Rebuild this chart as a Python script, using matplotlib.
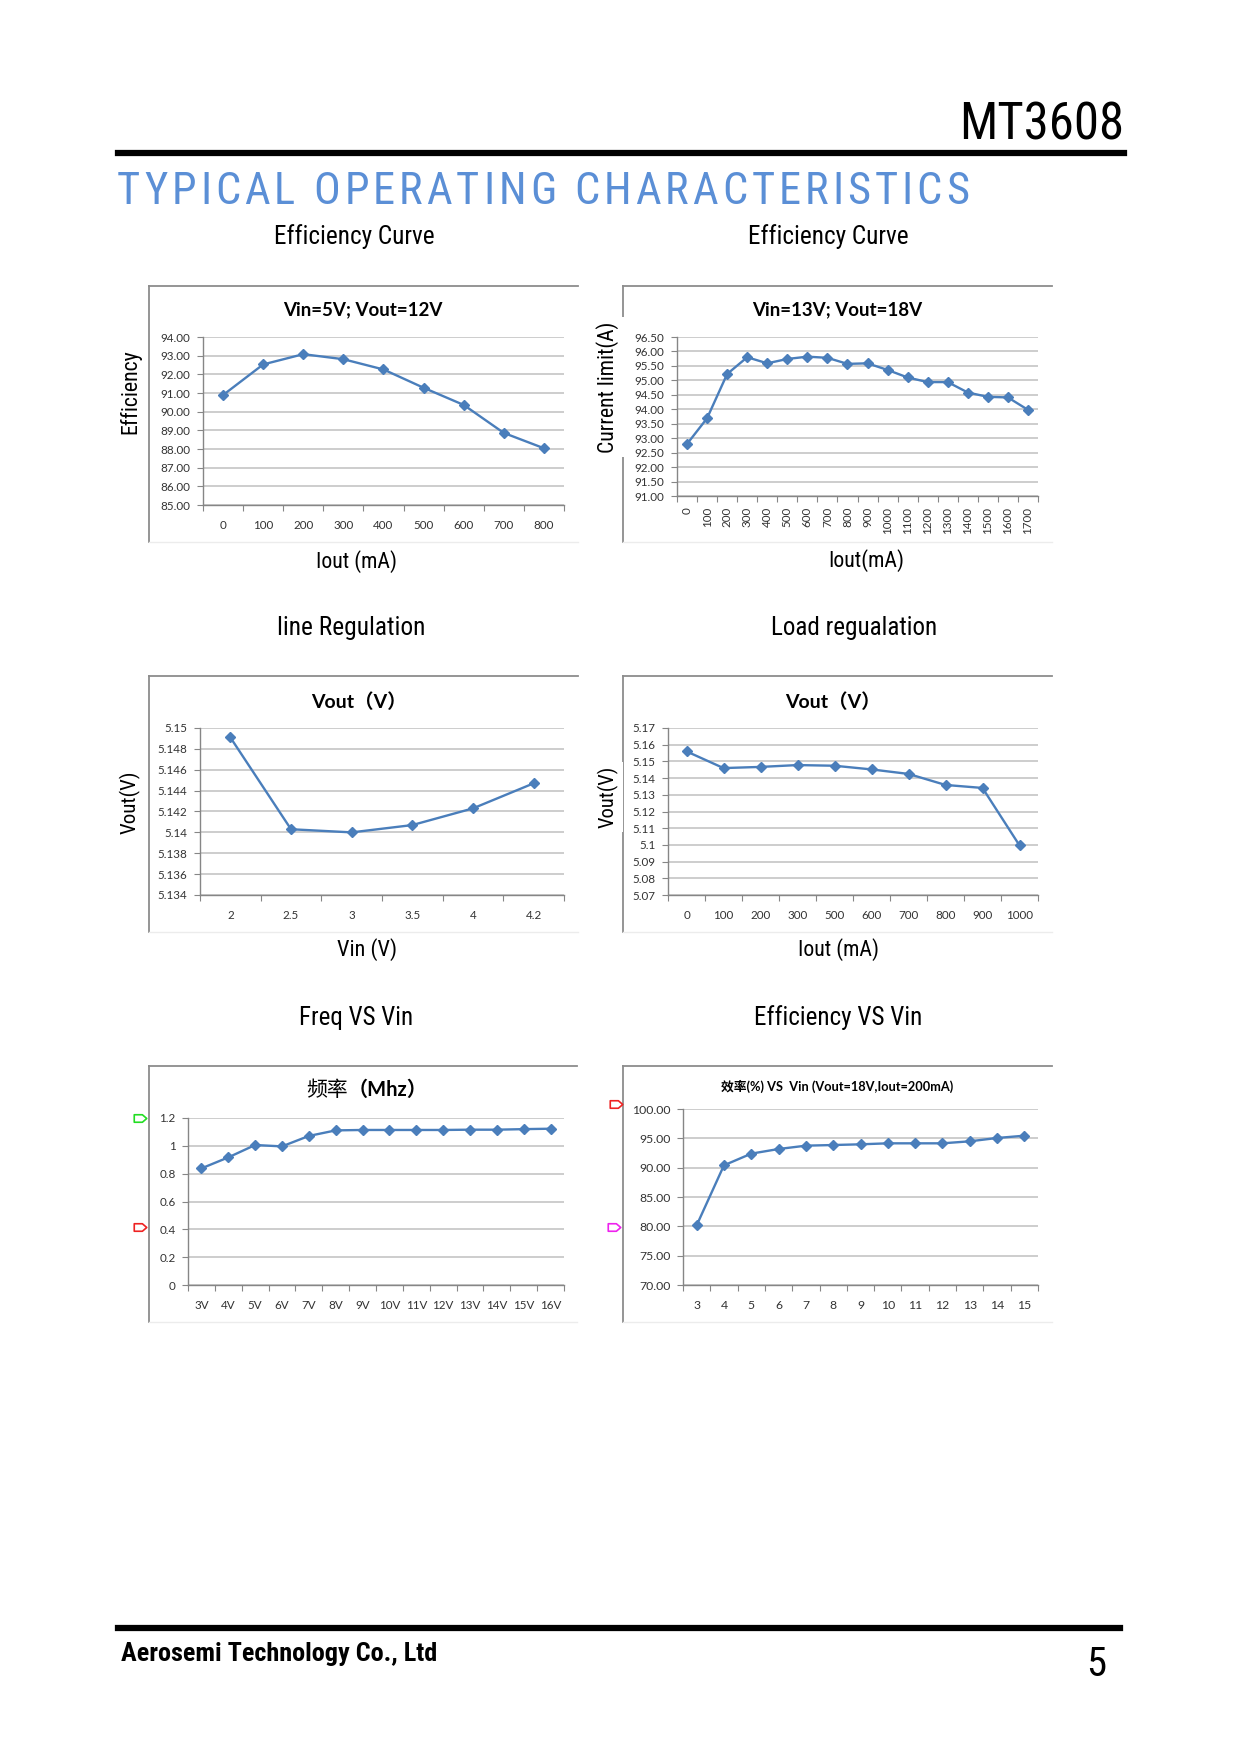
import numpy as np
import matplotlib
matplotlib.use('Agg')
import matplotlib.pyplot as plt
from matplotlib.lines import Line2D
from matplotlib.path import Path
from matplotlib import font_manager as fm

# page size in pixels
W, H = 1240, 1754

eff1_cats = ['0', '100', '200', '300', '400', '500', '600', '700', '800']
eff1_vals = [90.89, 92.53, 93.08, 92.81, 92.26, 91.28, 90.36, 88.86, 88.04]
eff1_yticks = [85, 86, 87, 88, 89, 90, 91, 92, 93, 94]

eff2_cats = ['0', '100', '200', '300', '400', '500', '600', '700', '800', '900',
             '1000', '1100', '1200', '1300', '1400', '1500', '1600', '1700']
eff2_vals = [92.80, 93.69, 95.22, 95.80, 95.59, 95.74, 95.82, 95.78, 95.57, 95.59,
             95.36, 95.10, 94.94, 94.94, 94.58, 94.43, 94.41, 93.98]
eff2_yticks = [91.0, 91.5, 92.0, 92.5, 93.0, 93.5, 94.0, 94.5, 95.0, 95.5, 96.0, 96.5]

line_cats = ['2', '2.5', '3', '3.5', '4', '4.2']
line_vals = [5.1491, 5.1403, 5.1400, 5.1407, 5.1423, 5.1447]
line_yticks = [5.134, 5.136, 5.138, 5.140, 5.142, 5.144, 5.146, 5.148, 5.150]

load_cats = ['0', '100', '200', '300', '500', '600', '700', '800', '900', '1000']
load_vals = [5.156, 5.146, 5.1467, 5.1478, 5.1474, 5.1452, 5.1425, 5.1359, 5.1341, 5.0997]
load_yticks = [5.07, 5.08, 5.09, 5.10, 5.11, 5.12, 5.13, 5.14, 5.15, 5.16, 5.17]

freq_cats = ['3V', '4V', '5V', '6V', '7V', '8V', '9V', '10V', '11V', '12V',
             '13V', '14V', '15V', '16V']
freq_vals = [0.838, 0.917, 1.006, 0.996, 1.071, 1.111, 1.114, 1.114, 1.114, 1.114,
             1.116, 1.116, 1.120, 1.123]
freq_yticks = [0, 0.2, 0.4, 0.6, 0.8, 1.0, 1.2]

effv_cats = ['3', '4', '5', '6', '7', '8', '9', '10', '11', '12', '13', '14', '15']
effv_vals = [80.17, 90.40, 92.39, 93.18, 93.75, 93.86, 93.98, 94.15, 94.15, 94.15,
             94.49, 95.06, 95.45]
effv_yticks = [70, 75, 80, 85, 90, 95, 100]

BLUE = '#4A7EBB'
CHART = ['Lato', 'Noto Sans CJK SC', 'DejaVu Sans']


# look for a condensed face (Arial Narrow look); fall back to Liberation Sans
def narrow_font(bold=False):
    want = 'bold' if bold else 'normal'
    for fam in ['Liberation Sans Narrow', 'Roboto Condensed', 'Open Sans Condensed',
                'Noto Sans', 'Roboto', 'Open Sans', 'DejaVu Sans']:
        for f in fm.fontManager.ttflist:
            if f.name != fam or 'condensed' not in str(f.stretch) or f.style != 'normal':
                continue
            w = f.weight
            isbold = (w == 'bold') or (isinstance(w, int) and w >= 600)
            if isbold == bold:
                return fm.FontProperties(fname=f.fname)
    return fm.FontProperties(family='Liberation Sans', weight=want)


NARROW = narrow_font(False)
NARROW_B = narrow_font(True)

fig = plt.figure(figsize=(W / 100, H / 100), dpi=100)
R = fig.canvas.get_renderer()


def fy(y):
    return 1 - y / H


def fit_text(cx, cy, s, target, prop, rotation=0, ha='center', **kw):
    # pick a font size so the string spans about `target` pixels
    t = fig.text(cx / W, fy(cy), s, ha=ha, va='center', fontproperties=prop.copy(),
                 rotation=rotation, **kw)
    t.set_fontsize(20)
    bb = t.get_window_extent(R)
    span = bb.height if rotation else bb.width
    t.set_fontsize(20 * target / span)
    return t


def frame(x0, y0, x1, y1):
    # Excel chart border: grey on left/top, almost white elsewhere
    fig.add_artist(Line2D([x0 / W, x0 / W], [fy(y0), fy(y1)], color='#8c8c8c', lw=1.3, zorder=1))
    fig.add_artist(Line2D([x0 / W, x1 / W], [fy(y0), fy(y0)], color='#8c8c8c', lw=1.3, zorder=1))
    fig.add_artist(Line2D([x0 / W, x1 / W], [fy(y1), fy(y1)], color='#ececec', lw=1.0, zorder=1))


def chart(box, plot, cats, vals, yticks, yfmt, title, tsize, title_xy,
          ylabel=None, ylabel_xy=None, xlabel=None, xlabel_xy=None, rot=0, tsz=8.4):
    frame(*box)
    x0, y0, x1, y1 = plot
    ax = fig.add_axes([x0 / W, fy(y1), (x1 - x0) / W, (y1 - y0) / H])
    xs = np.arange(len(cats))
    ax.plot(xs, vals, color=BLUE, lw=1.7, marker='D', ms=5.5, zorder=3, clip_on=False)
    ax.set_xlim(-0.5, len(cats) - 0.5)
    ax.set_ylim(yticks[0], yticks[-1])
    ax.set_yticks(yticks)
    ax.set_yticklabels([yfmt(v) for v in yticks], fontsize=tsz, color='#333333', family=CHART)
    ax.yaxis.grid(True, color='#C0C0C0', lw=1.1)
    ax.set_axisbelow(True)
    ax.set_xticks(np.arange(-0.5, len(cats)))
    ax.set_xticks(xs, minor=True)
    if rot:
        ax.set_xticklabels(cats, minor=True, rotation=90, va='top', ha='center',
                           fontsize=tsz, color='#333333', family=CHART)
    else:
        ax.set_xticklabels(cats, minor=True, fontsize=tsz, color='#333333', family=CHART)
    ax.tick_params(axis='x', which='major', length=4, color='#868686', labelbottom=False)
    ax.tick_params(axis='x', which='minor', length=0, pad=8 if rot else 11)
    ax.tick_params(axis='y', length=4, color='#868686', pad=5)
    for s in ('top', 'right'):
        ax.spines[s].set_visible(False)
    for s in ('left', 'bottom'):
        ax.spines[s].set_color('#868686')
        ax.spines[s].set_linewidth(1.0)
    ax.set_facecolor('none')
    if title:
        fig.text(title_xy[0] / W, fy(title_xy[1]), title, ha='center', va='center',
                 fontsize=tsize, fontweight='bold', family=CHART)
    if ylabel:
        fit_text(ylabel_xy[0], ylabel_xy[1], ylabel[0], ylabel[1], NARROW, rotation=90,
                 zorder=5, bbox=dict(facecolor='white', edgecolor='none', pad=2))
    if xlabel:
        fit_text(xlabel_xy[0], xlabel_xy[1], xlabel[0], xlabel[1], NARROW)
    return ax


f2 = lambda v: '%.2f' % v
fg = lambda v: '%g' % v

chart((149, 286, 578, 542), (203, 337, 564, 505), eff1_cats, eff1_vals, eff1_yticks, f2,
      'Vin=5V; Vout=12V', 13.5, (363, 310), ('Efficiency', 85), (130, 392),
      ('Iout (mA)', 81), (357, 562))
chart((623, 286, 1052, 542), (677, 337, 1038, 496), eff2_cats, eff2_vals, eff2_yticks, f2,
      'Vin=13V; Vout=18V', 13.5, (837, 310), ('Current limit(A)', 131), (608, 387),
      ('Iout(mA)', 76), (866, 561), rot=90)
chart((149, 676, 578, 932), (200, 728, 564, 895), line_cats, line_vals, line_yticks, fg,
      'Vout（V）', 14, (359, 702), ('Vout(V)', 63), (130, 802), ('Vin (V)', 60), (367, 950))
chart((623, 676, 1052, 932), (668, 728, 1038, 895), load_cats, load_vals, load_yticks, fg,
      'Vout（V）', 14, (833, 702), ('Vout(V)', 62), (608, 797), ('Iout (mA)', 81), (839, 950))
chart((149, 1066, 577, 1322), (188, 1118, 564, 1285), freq_cats, freq_vals, freq_yticks, fg,
      None, 14, (358, 1090))
chart((623, 1066, 1052, 1322), (683, 1109, 1038, 1285), effv_cats, effv_vals, effv_yticks, f2,
      '效率(%) VS  Vin (Vout=18V,Iout=200mA)', 9.2, (837, 1086), tsz=8.8)

# frequency chart title: plain CJK characters, bold latin part
fig.text(348 / W, fy(1090), '频率', ha='right', va='center', fontsize=15,
         family=['Noto Sans CJK SC', 'DejaVu Sans'])
fig.text(348 / W, fy(1090), '（Mhz）', ha='left', va='center', fontsize=14.5, fontweight='bold',
         family=CHART)

# little comment tags left of the bottom charts
tag = Path([(-1, -0.6), (0.3, -0.6), (1, 0), (0.3, 0.6), (-1, 0.6), (-1, -0.6)],
           [Path.MOVETO, Path.LINETO, Path.LINETO, Path.LINETO, Path.LINETO, Path.CLOSEPOLY])
for (tx, ty, c) in [(140, 1118, '#22dd22'), (140, 1227, '#ee2222'),
                    (616, 1104, '#ee2222'), (614, 1227, '#ee22ee')]:
    fig.add_artist(Line2D([tx / W], [fy(ty)], marker=tag, ms=9, mfc='none', mec=c, mew=1.2, ls='none'))

# section captions
for txt, (cx, cy), wpx in [('Efficiency Curve', (354, 237), 161), ('Efficiency Curve', (828, 237), 161),
                           ('line Regulation', (351, 628), 148), ('Load regualation', (854, 628), 166),
                           ('Freq VS Vin', (356, 1018), 114), ('Efficiency VS Vin', (838, 1018), 168)]:
    fit_text(cx, cy, txt, wpx, NARROW)

# header
fit_text(1124, 126, 'MT3608', 165, NARROW, ha='right')
fig.add_artist(Line2D([118 / W, 1124 / W], [fy(153), fy(153)], color='black', lw=4.5))

# spaced-out blue section title
title = 'TYPICAL OPERATING CHARACTERISTICS'
chars = []
for ch in title:
    t = fig.text(0, fy(192), ch, ha='left', va='center', fontproperties=NARROW.copy(),
                 color='#5B8FD6')
    t.set_fontsize(32)
    chars.append((t, t.get_window_extent(R).width))
total = sum(w for _, w in chars)
track = max((969 - 117 - total) / (len(chars) - 1), 0)
xpos = 117
for t, w in chars:
    t.set_x(xpos / W)
    xpos += w + track

# footer
fig.add_artist(Line2D([118 / W, 1120 / W], [fy(1628), fy(1628)], color='black', lw=4.5))
fit_text(121, 1654, 'Aerosemi Technology Co., Ltd', 317, NARROW_B, ha='left')
fit_text(1096, 1664, '5', 20, NARROW)

fig.savefig('out.png', dpi=100)
